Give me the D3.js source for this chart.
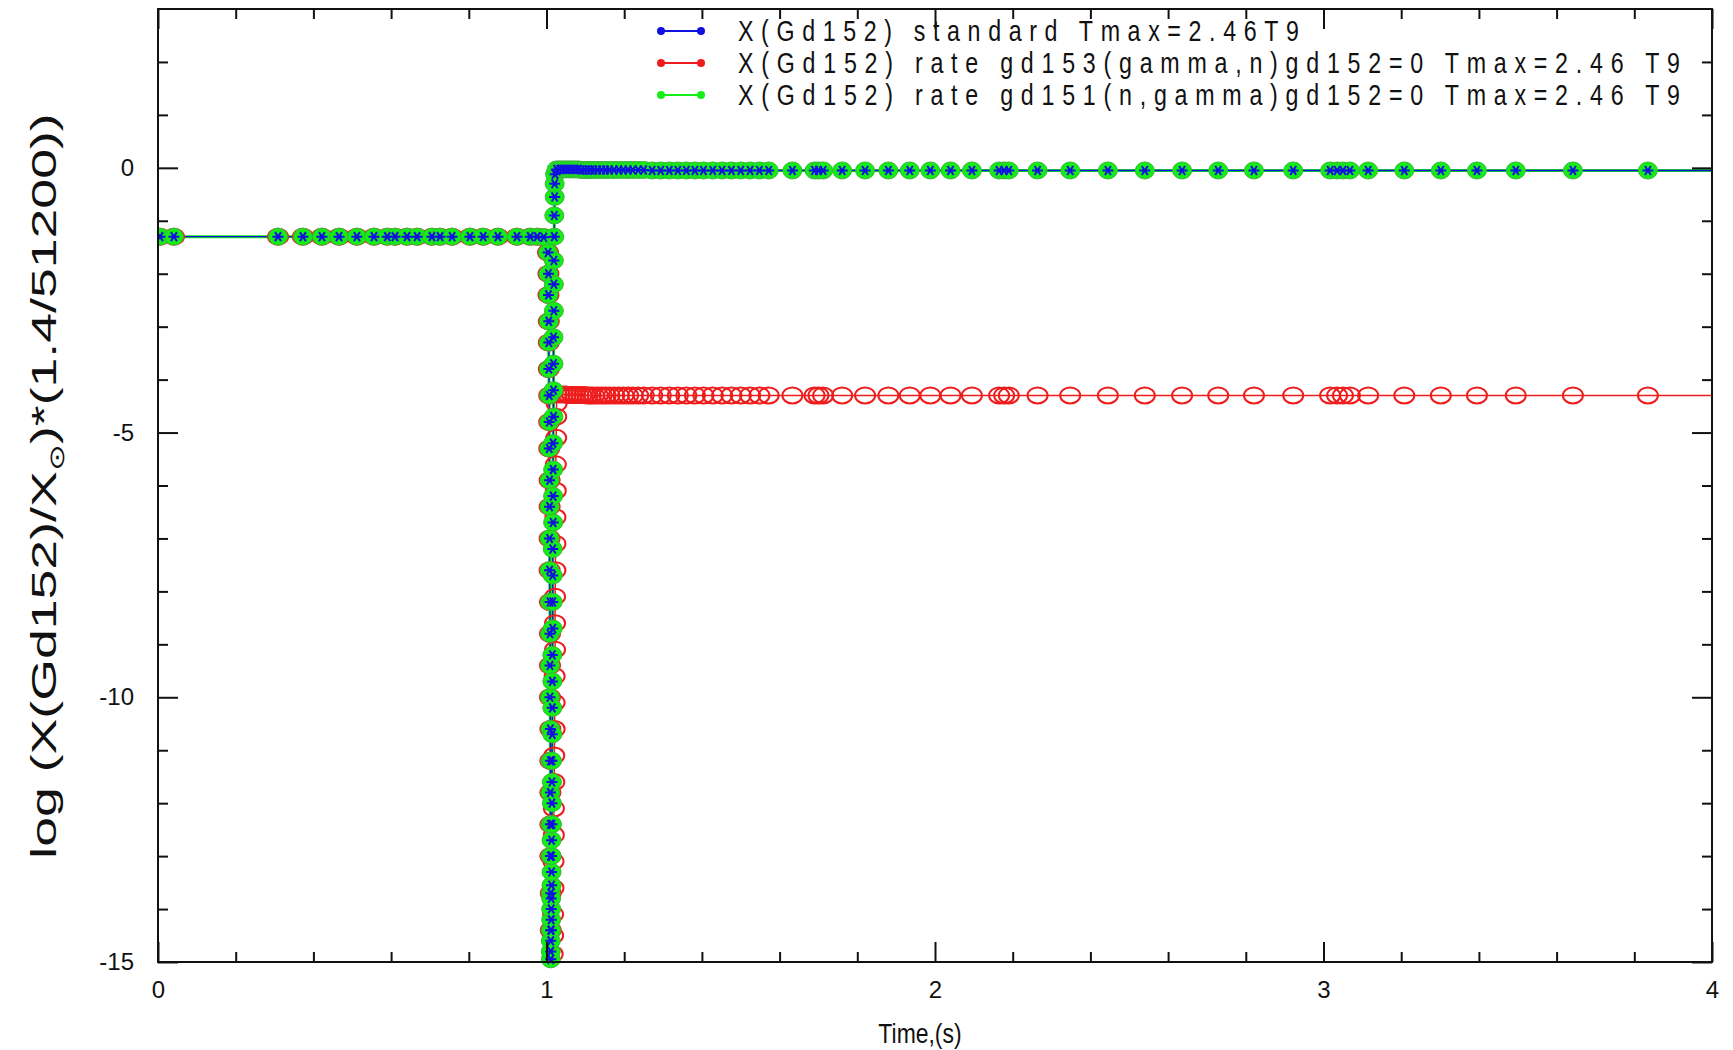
<!DOCTYPE html>
<html>
<head>
<meta charset="utf-8">
<script src="https://cdn.jsdelivr.net/npm/d3@7"></script>
<style>
  body { margin: 0; background: #fff; }
  svg { display: block; }
</style>
</head>
<body>
<div id="chart"></div>
<script>
// --- data ---
// before the peak (same for all three runs)
const timePre = [0.005, 0.041, 0.309, 0.373, 0.422, 0.466, 0.512, 0.556, 0.590, 0.610, 0.641,
                 0.667, 0.705, 0.726, 0.757, 0.803, 0.837, 0.875, 0.924, 0.958, 0.976, 0.993];
const valPre  = [-1.30, -1.30, -1.30, -1.30, -1.30, -1.30, -1.30, -1.30, -1.30, -1.30, -1.30,
                 -1.30, -1.30, -1.30, -1.30, -1.30, -1.30, -1.30, -1.30, -1.30, -1.30, -1.31];

// drop at the temperature peak (same for all three runs)
const timeDrop = [1.004, 1.005, 1.005, 1.006, 1.006, 1.006, 1.007, 1.007, 1.007, 1.008, 1.008, 1.008,
                  1.008, 1.009, 1.009, 1.009, 1.009, 1.010, 1.010, 1.010, 1.010, 1.010, 1.011, 1.011];
const valDrop  = [-1.6, -2.0, -2.4, -2.9, -3.3, -3.8, -4.3, -4.8, -5.3, -5.9, -6.4, -7.0,
                  -7.6, -8.2, -8.8, -9.4, -10.0, -10.6, -11.2, -11.8, -12.4, -13.0, -13.7, -14.4];

// recovery, standard and gd151(n,gamma)=0 runs
const timeRiseStd = [1.011, 1.011, 1.011, 1.012, 1.012, 1.012, 1.012, 1.013, 1.013, 1.013, 1.013,
                     1.014, 1.014, 1.014, 1.014, 1.015, 1.015, 1.015, 1.015, 1.016, 1.016, 1.016,
                     1.016, 1.017, 1.017, 1.017, 1.017, 1.018, 1.018, 1.018, 1.018, 1.019, 1.019,
                     1.019, 1.020, 1.020, 1.021, 1.021, 1.022];
const valRiseStd  = [-14.95, -14.8, -14.6, -14.4, -14.2, -14.0, -13.8, -13.55, -13.3, -13.0, -12.7,
                     -12.4, -12.0, -11.6, -11.2, -10.7, -10.2, -9.7, -9.2, -8.7, -8.2, -7.7,
                     -7.2, -6.7, -6.2, -5.7, -5.2, -4.7, -4.2, -3.7, -3.2, -2.7, -2.2,
                     -1.75, -1.3, -0.9, -0.55, -0.3, -0.12];

// recovery, gd153(gamma,n)=0 run
const timeRiseRed = [1.016, 1.017, 1.017, 1.018, 1.018, 1.019, 1.019, 1.020, 1.020, 1.021, 1.021, 1.021,
                     1.022, 1.022, 1.022, 1.023, 1.023, 1.023, 1.024, 1.024, 1.025, 1.025, 1.026];
const valRiseRed  = [-14.85, -14.5, -14.1, -13.6, -13.1, -12.6, -12.1, -11.6, -11.1, -10.6, -10.1, -9.6,
                     -9.1, -8.6, -8.1, -7.6, -7.1, -6.6, -6.1, -5.6, -5.1, -4.7, -4.45];

// freeze-out plateau
const timeLate = [1.026, 1.034, 1.042, 1.050, 1.058, 1.066, 1.074, 1.082, 1.090, 1.098, 1.106, 1.114,
                  1.122, 1.132, 1.142, 1.152, 1.162, 1.174, 1.186, 1.198, 1.210, 1.222, 1.236, 1.250,
                  1.272, 1.294, 1.316, 1.338, 1.360, 1.382, 1.404, 1.428, 1.452, 1.476, 1.500, 1.524,
                  1.548, 1.572,
                  1.633, 1.690, 1.700, 1.712, 1.761, 1.820, 1.880, 1.935, 1.988, 2.040, 2.095, 2.165,
                  2.178, 2.190, 2.264, 2.348, 2.445, 2.540, 2.636, 2.729, 2.821, 2.922, 3.017, 3.035,
                  3.050, 3.068, 3.115, 3.208, 3.302, 3.395, 3.495, 3.642, 3.835, 4.100];
const valLateStd = [-0.03, -0.03, -0.03, -0.03, -0.03, -0.03, -0.03, -0.03, -0.04, -0.04, -0.04, -0.04,
                    -0.04, -0.04, -0.04, -0.04, -0.04, -0.04, -0.04, -0.04, -0.04, -0.04, -0.04, -0.04,
                    -0.05, -0.05, -0.05, -0.05, -0.05, -0.05, -0.05, -0.05, -0.05, -0.05, -0.05, -0.05,
                    -0.05, -0.05,
                    -0.05, -0.05, -0.05, -0.05, -0.05, -0.05, -0.05, -0.05, -0.05, -0.05, -0.05, -0.05,
                    -0.05, -0.05, -0.05, -0.05, -0.05, -0.05, -0.05, -0.05, -0.05, -0.05, -0.05, -0.05,
                    -0.05, -0.05, -0.05, -0.05, -0.05, -0.05, -0.05, -0.05, -0.05, -0.05];
const valLateRed = [-4.28, -4.28, -4.28, -4.28, -4.29, -4.29, -4.29, -4.29, -4.29, -4.29, -4.30, -4.30,
                    -4.30, -4.30, -4.30, -4.30, -4.30, -4.30, -4.30, -4.30, -4.30, -4.30, -4.30, -4.30,
                    -4.30, -4.30, -4.30, -4.30, -4.30, -4.30, -4.30, -4.30, -4.30, -4.30, -4.30, -4.30,
                    -4.30, -4.30,
                    -4.30, -4.30, -4.30, -4.30, -4.30, -4.30, -4.30, -4.30, -4.30, -4.30, -4.30, -4.30,
                    -4.30, -4.30, -4.30, -4.30, -4.30, -4.30, -4.30, -4.30, -4.30, -4.30, -4.30, -4.30,
                    -4.30, -4.30, -4.30, -4.30, -4.30, -4.30, -4.30, -4.30, -4.30, -4.30];

const seriesNames = [
  "X(Gd152) standard Tmax=2.46T9",
  "X(Gd152) rate gd153(gamma,n)gd152=0 Tmax=2.46 T9",
  "X(Gd152) rate gd151(n,gamma)gd152=0 Tmax=2.46 T9"
];
const xMajor = [0, 1, 2, 3, 4];
const xMinor = [0.2, 0.4, 0.6, 0.8, 1.2, 1.4, 1.6, 1.8, 2.2, 2.4, 2.6, 2.8, 3.2, 3.4, 3.6, 3.8];
const yMajor = [-15, -10, -5, 0];
const yMinor = [-14, -13, -12, -11, -9, -8, -7, -6, -4, -3, -2, -1, 1, 2];

// --- build series ---
function zipPts(ts, vs) { return ts.map((t, i) => ({ t, v: vs[i] })); }
const stdPts = [].concat(zipPts(timePre, valPre), zipPts(timeDrop, valDrop),
                         zipPts(timeRiseStd, valRiseStd), zipPts(timeLate, valLateStd));
const redPts = [].concat(zipPts(timePre, valPre), zipPts(timeDrop, valDrop),
                         zipPts(timeRiseRed, valRiseRed), zipPts(timeLate, valLateRed));
const greenPts = stdPts;

const W = 1733, H = 1050;
const frame = { left: 158, right: 1712, top: 9, bottom: 962 };

const x = d3.scaleLinear().domain([0, 4]).range([frame.left, frame.right]);
const y = d3.scaleLinear().domain([-15, 3]).range([frame.bottom, frame.top]);

const svg = d3.select("#chart").append("svg")
  .attr("width", W)
  .attr("height", H);

svg.append("defs").append("clipPath").attr("id", "plotclip")
  .append("rect")
  .attr("x", frame.left).attr("y", frame.top)
  .attr("width", frame.right - frame.left).attr("height", frame.bottom - frame.top);
svg.select("defs").append("clipPath").attr("id", "markclip")
  .append("rect")
  .attr("x", frame.left).attr("y", frame.top)
  .attr("width", frame.right - frame.left).attr("height", frame.bottom - frame.top + 12);

const line = d3.line().x(d => x(d.t)).y(d => y(d.v));

const BLUE = "#1010e0", RED = "#ee1c1c", GREEN = "#14ee14";
const starPath = "M-5.5,0H5.5M-3,-4.5L3,4.5M3,-4.5L-3,4.5";

const lines = svg.append("g").attr("clip-path", "url(#plotclip)");
lines.append("path").datum(redPts).attr("d", line)
  .attr("fill", "none").attr("stroke", RED).attr("stroke-width", 1.5);
lines.append("path").datum(greenPts).attr("d", line)
  .attr("fill", "none").attr("stroke", GREEN).attr("stroke-width", 3);
lines.append("path").datum(stdPts).attr("d", line)
  .attr("fill", "none").attr("stroke", BLUE).attr("stroke-width", 1.4);

const marks = svg.append("g").attr("clip-path", "url(#markclip)");
marks.append("g").selectAll("ellipse")
  .data(redPts.filter(d => d.t <= 4))
  .join("ellipse")
  .attr("cx", d => x(d.t)).attr("cy", d => y(d.v))
  .attr("rx", 10).attr("ry", 8)
  .attr("fill", "none").attr("stroke", RED).attr("stroke-width", 2);
marks.append("g").selectAll("ellipse")
  .data(greenPts.filter(d => d.t <= 4))
  .join("ellipse")
  .attr("cx", d => x(d.t)).attr("cy", d => y(d.v))
  .attr("rx", 9.5).attr("ry", 8.5)
  .attr("fill", GREEN).attr("stroke", "#3cb43c").attr("stroke-width", 1);
marks.append("g").selectAll("path")
  .data(stdPts.filter(d => d.t <= 4))
  .join("path")
  .attr("transform", d => `translate(${x(d.t)},${y(d.v)})`)
  .attr("d", starPath)
  .attr("fill", "none").attr("stroke", BLUE).attr("stroke-width", 2);

// --- axes: ticks pointing inward on all four sides ---
const tickFont = "'Liberation Sans', Arial, sans-serif";
function addAxis(axisGen, tx, ty, values, len, labels, pad) {
  const g = svg.append("g")
    .attr("transform", `translate(${tx},${ty})`)
    .call(axisGen.tickValues(values).tickSizeInner(-len).tickSizeOuter(0)
      .tickPadding(pad || 3)
      .tickFormat(labels ? (d => String(d)) : ""));
  g.select(".domain").remove();
  g.selectAll(".tick line").attr("stroke", "#111").attr("stroke-width", 2);
  g.selectAll(".tick text").attr("font-family", tickFont).attr("font-size", 24).attr("fill", "#111");
  return g;
}
addAxis(d3.axisLeft(y), frame.left, 0, yMajor, 20, true, 24);
addAxis(d3.axisLeft(y), frame.left, 0, yMinor, 10, false);
addAxis(d3.axisRight(y), frame.right, 0, yMajor, 20, false);
addAxis(d3.axisRight(y), frame.right, 0, yMinor, 10, false);
addAxis(d3.axisBottom(x), 0, frame.bottom, xMajor, 20, true, 19);
addAxis(d3.axisBottom(x), 0, frame.bottom, xMinor, 10, false);
addAxis(d3.axisTop(x), 0, frame.top, xMajor, 20, false);
addAxis(d3.axisTop(x), 0, frame.top, xMinor, 10, false);

svg.append("rect")
  .attr("x", frame.left).attr("y", frame.top)
  .attr("width", frame.right - frame.left).attr("height", frame.bottom - frame.top)
  .attr("fill", "none").attr("stroke", "#111").attr("stroke-width", 2);

// --- axis titles (narrow look: horizontally squeezed Liberation Sans) ---
const sans = "'Liberation Sans', Arial, sans-serif";
svg.append("text")
  .attr("transform", "translate(920,1043) scale(0.85,1)")
  .attr("text-anchor", "middle")
  .attr("font-family", sans).attr("font-size", 27).attr("fill", "#111")
  .text("Time,(s)");

const ylab = svg.append("g").attr("transform", "translate(56,486) rotate(-90)");
const ytext = ylab.append("text")
  .attr("text-anchor", "middle")
  .attr("font-family", sans).attr("font-size", 35).attr("fill", "#111");
ytext.append("tspan").text("log (X(Gd152)/X");
ytext.append("tspan").attr("font-size", 21).attr("dy", 8).text("\u2299");
ytext.append("tspan").attr("dy", -8).text(")*(1.4/51200))");
const yw = ytext.node().getComputedTextLength();
ytext.attr("transform", `scale(${746 / yw},1)`);

// --- legend ---
const legendColors = [BLUE, RED, GREEN];
const legendRows = [31, 63, 95];
const legendWidths = [561, 942, 942];
const squeeze = 0.8;
const legend = svg.append("g");
seriesNames.forEach((name, i) => {
  const row = legend.append("g").attr("transform", `translate(0,${legendRows[i]})`);
  row.append("line")
    .attr("x1", 661).attr("x2", 701).attr("y1", 0).attr("y2", 0)
    .attr("stroke", legendColors[i]).attr("stroke-width", 2);
  [661, 701].forEach(cx => {
    row.append("circle").attr("cx", cx).attr("cy", 0).attr("r", 4)
      .attr("fill", legendColors[i]);
  });
  row.append("text")
    .attr("transform", `translate(738,10) scale(${squeeze},1)`)
    .attr("font-family", sans).attr("font-size", 29).attr("fill", "#111")
    .attr("textLength", legendWidths[i] / squeeze).attr("lengthAdjust", "spacing")
    .text(name);
});
</script>
</body>
</html>
